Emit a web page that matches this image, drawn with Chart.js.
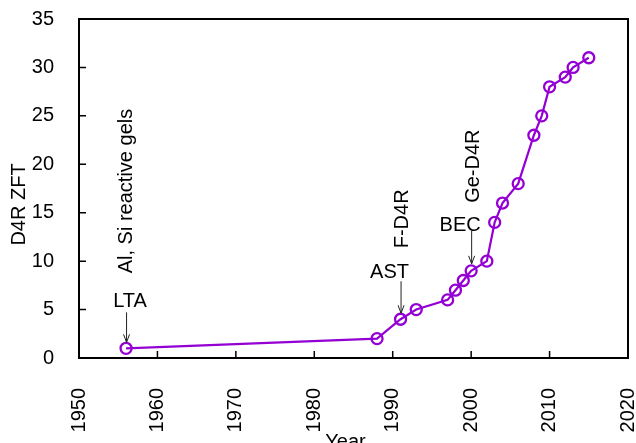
<!DOCTYPE html>
<html><head><meta charset="utf-8">
<script src="https://cdn.jsdelivr.net/npm/chart.js@4/dist/chart.umd.min.js"></script>
<style>html,body{margin:0;padding:0;background:#fff}#wrap{width:636px;height:443px;position:relative}</style>
</head><body><div id="wrap"><canvas id="c"></canvas></div>
<script>
// ---- data ----
const years = [1956,1988,1991,1993,1997,1998,1999,2000,2002,2003,2004,2006,2008,2009,2010,2012,2013,2015];
const zftCounts = [1,2,4,5,6,7,8,9,10,14,16,18,23,25,28,29,30,31];
const xTicks = [1950,1960,1970,1980,1990,2000,2010,2020];
const yTicks = [0,5,10,15,20,25,30,35];
const arrowLabels = ['LTA','AST','BEC'];
const arrowYears = [1956,1991,2000];
const arrowValues = [1,4,9];
const sideLabels = ['Al, Si reactive gels','F-D4R','Ge-D4R'];
const sideYears = [1956,1991,2000];
const sideValues = [1,4,9];
const xTitle = 'Year';
const yTitle = 'D4R ZFT';

// ---- styles ----
const FONT = '"Liberation Sans", Arial, sans-serif';
const FS = 20;
const PURPLE = '#9400d3';
const arrowStyle = [ // text offset (dx,dy) from point, arrow start/end dy
  {tdx: 4, tdy: -47, a0: -36, a1: -6},
  {tdx: -11, tdy: -47, a0: -38, a1: -6},
  {tdx: -11, tdy: -45, a0: -40, a1: -7}
];
const sideStyle = [{dx: 0, dy: -75}, {dx: 2, dy: -71}, {dx: 2, dy: -68}];

const decor = {
  id: 'decor',
  beforeDatasetsDraw(chart) {
    const {ctx, chartArea: a, scales: {x, y}} = chart;
    ctx.save();
    ctx.strokeStyle = '#000';
    ctx.lineWidth = 1.5;
    ctx.beginPath();
    xTicks.forEach(v => { const px = x.getPixelForValue(v); ctx.moveTo(px, a.bottom); ctx.lineTo(px, a.bottom - 7); });
    yTicks.forEach(v => { const py = y.getPixelForValue(v); ctx.moveTo(a.left, py); ctx.lineTo(a.left + 7, py); });
    ctx.stroke();
    ctx.lineWidth = 2;
    ctx.strokeRect(a.left, a.top, a.right - a.left, a.bottom - a.top);
    // axis titles
    ctx.fillStyle = '#000';
    ctx.font = FS + 'px ' + FONT;
    ctx.textAlign = 'center';
    ctx.textBaseline = 'alphabetic';
    ctx.fillText(xTitle, (a.left + a.right) / 2 - 8, a.bottom + 90);
    ctx.save();
    ctx.translate(a.left - 60, (a.top + a.bottom) / 2 + 16);
    ctx.rotate(-Math.PI / 2);
    ctx.textBaseline = 'middle';
    ctx.fillText(yTitle, 0, 0);
    ctx.restore();
    ctx.restore();
  },
  afterDatasetsDraw(chart) {
    const {ctx, scales: {x, y}} = chart;
    ctx.save();
    ctx.fillStyle = '#000';
    ctx.strokeStyle = '#222';
    ctx.font = FS + 'px ' + FONT;
    arrowLabels.forEach((t, i) => {
      const px = x.getPixelForValue(arrowYears[i]);
      const py = y.getPixelForValue(arrowValues[i]);
      const s = arrowStyle[i];
      ctx.textAlign = 'center';
      ctx.textBaseline = 'middle';
      ctx.fillText(t, px + s.tdx, py + s.tdy);
      ctx.lineWidth = 1;
      ctx.beginPath();
      ctx.moveTo(px + 0.5, py + s.a0);
      ctx.lineTo(px + 0.5, py + s.a1);
      ctx.moveTo(px + 0.5 - 3, py + s.a1 - 8);
      ctx.lineTo(px + 0.5, py + s.a1);
      ctx.lineTo(px + 0.5 + 3, py + s.a1 - 8);
      ctx.stroke();
    });
    sideLabels.forEach((t, i) => {
      const px = x.getPixelForValue(sideYears[i]);
      const py = y.getPixelForValue(sideValues[i]);
      const s = sideStyle[i];
      ctx.save();
      ctx.translate(px + s.dx, py + s.dy);
      ctx.rotate(-Math.PI / 2);
      ctx.textAlign = 'left';
      ctx.textBaseline = 'middle';
      ctx.fillText(t, 0, 0);
      ctx.restore();
    });
    ctx.restore();
  }
};

new Chart(document.getElementById('c'), {
  type: 'line',
  data: {
    datasets: [{
      data: years.map((yr, i) => ({x: yr, y: zftCounts[i]})),
      borderColor: PURPLE,
      borderWidth: 2.2,
      pointStyle: 'circle',
      pointRadius: 5.5,
      pointBorderWidth: 2.3,
      pointBorderColor: PURPLE,
      pointBackgroundColor: 'rgba(0,0,0,0)',
      tension: 0
    }]
  },
  options: {
    responsive: true,
    maintainAspectRatio: false,
    animation: false,
    events: [],
    layout: {padding: {left: 0, top: 19, right: 8, bottom: 0}},
    plugins: {legend: {display: false}, tooltip: {enabled: false}},
    scales: {
      x: {
        type: 'linear', min: 1950, max: 2020,
        afterBuildTicks: s => { s.ticks = xTicks.map(v => ({value: v})); },
        afterFit: s => { s.height = 85; s.paddingLeft = 0; s.paddingRight = 0; s.paddingTop = 0; s.paddingBottom = 0; },
        grid: {display: false, drawTicks: false},
        border: {display: false},
        ticks: {minRotation: 90, maxRotation: 90, padding: 30, labelOffset: 0, color: '#000',
          font: {family: FONT, size: FS}, callback: v => String(v)}
      },
      y: {
        type: 'linear', min: 0, max: 35,
        afterBuildTicks: s => { s.ticks = yTicks.map(v => ({value: v})); },
        afterFit: s => { s.width = 79; s.paddingLeft = 0; s.paddingRight = 0; s.paddingTop = 0; s.paddingBottom = 0; },
        grid: {display: false, drawTicks: false},
        border: {display: false},
        ticks: {padding: 25, color: '#000', font: {family: FONT, size: FS}, callback: v => String(v)}
      }
    }
  },
  plugins: [decor]
});
</script>
</body></html>
